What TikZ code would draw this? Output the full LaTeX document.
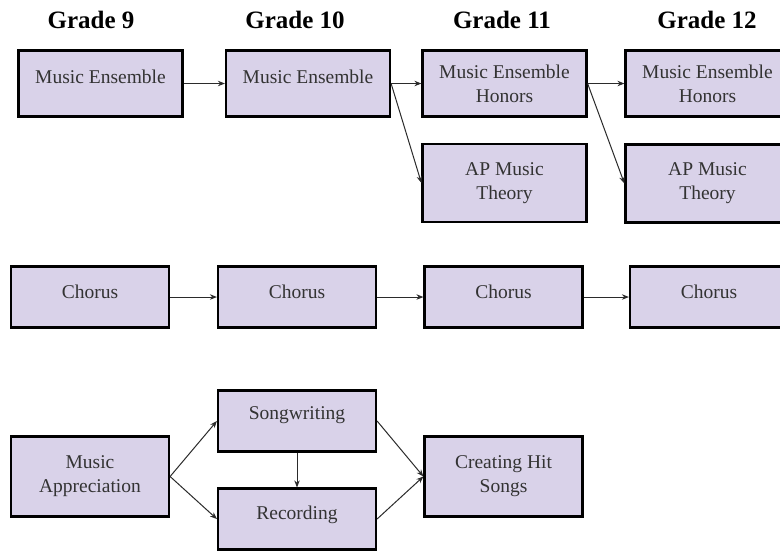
\documentclass[tikz,border=0pt]{standalone}
\usepackage{fontspec}
\setmainfont{Liberation Serif}
\usetikzlibrary{arrows.meta}
\definecolor{boxfill}{HTML}{D9D2E9}
\definecolor{txtgray}{HTML}{333333}
\definecolor{arrgray}{HTML}{2B2B2B}
\begin{document}
\begin{tikzpicture}[x=1pt,y=-1pt,
  course/.style={draw=black, line width=2.2pt, fill=boxfill, inner sep=0pt,
    text=txtgray, font=\rmfamily\fontsize{19.5}{24}\selectfont, align=center},
  topbox/.style={course, minimum width=164pt, minimum height=66pt},
  apbox/.style={course, minimum width=164pt, minimum height=78pt},
  midbox/.style={course, minimum width=158pt, minimum height=61pt},
  tallbox/.style={course, minimum width=158pt, minimum height=80pt},
  lbl/.style={text=txtgray, font=\rmfamily\fontsize{19.5}{24}\selectfont, inner sep=0pt},
  head/.style={font=\rmfamily\fontsize{25}{30}\selectfont\bfseries, text=black},
  link/.style={draw=arrgray, line width=1pt, -{Stealth[length=7pt,width=5.5pt]}}]
\useasboundingbox (0,0) rectangle (780,550);
\clip (0,0) rectangle (780,550);
\fill[white] (0,0) rectangle (780,550);

% headers
\node[head] (g9)  at (91,20)  {Grade 9};
\node[head] (g10) at (295,20) {Grade 10};
\node[head] (g11) at (502,20) {Grade 11};
\node[head] (g12) at (707,20) {Grade 12};

% ensemble track
\node[topbox, label={[lbl,yshift=7pt]center:Music Ensemble}] (me9)  at (100.5,83.5) {};
\node[topbox, label={[lbl,yshift=7pt]center:Music Ensemble}] (me10) at (308,83.5) {};
\node[topbox] (me11) at (504.5,83.5) {Music Ensemble\\Honors};
\node[topbox] (me12) at (707.5,83.5) {Music Ensemble\\Honors};
\node[apbox] (ap11) at (504.5,183) {AP Music\\Theory};
\node[apbox] (ap12) at (707.5,183.5) {AP Music\\Theory};

\draw[link] (me9.east) -- (me10.west);
\draw[link] (me10.east) -- (me11.west);
\draw[link] (me10.east) -- (ap11.west);
\draw[link] (me11.east) -- (me12.west);
\draw[link] (me11.east) -- (ap12.west);

% chorus track
\node[midbox, label={[lbl,yshift=5pt]center:Chorus}] (c9)  at (90,297) {};
\node[midbox, label={[lbl,yshift=5pt]center:Chorus}] (c10) at (297,297) {};
\node[midbox, label={[lbl,yshift=5pt]center:Chorus}] (c11) at (503.5,297) {};
\node[midbox, label={[lbl,yshift=5pt]center:Chorus}] (c12) at (709,297) {};

\draw[link] (c9.east) -- (c10.west);
\draw[link] (c10.east) -- (c11.west);
\draw[link] (c11.east) -- (c12.west);

% songwriting track
\node[tallbox] (ma) at (90,476.5) {Music\\Appreciation};
\node[midbox, label={[lbl,yshift=6pt]center:Songwriting}] (sw) at (297,421) {};
\node[midbox, label={[lbl,yshift=4pt]center:Recording}] (rec) at (297,519) {};
\node[tallbox] (chs) at (503.5,476.5) {Creating Hit\\Songs};

\draw[link] (ma.east) -- (sw.west);
\draw[link] (ma.east) -- (rec.west);
\draw[link] (sw.south) -- (rec.north);
\draw[link] (sw.east) -- (chs.west);
\draw[link] (rec.east) -- (chs.west);
\end{tikzpicture}
\end{document}
